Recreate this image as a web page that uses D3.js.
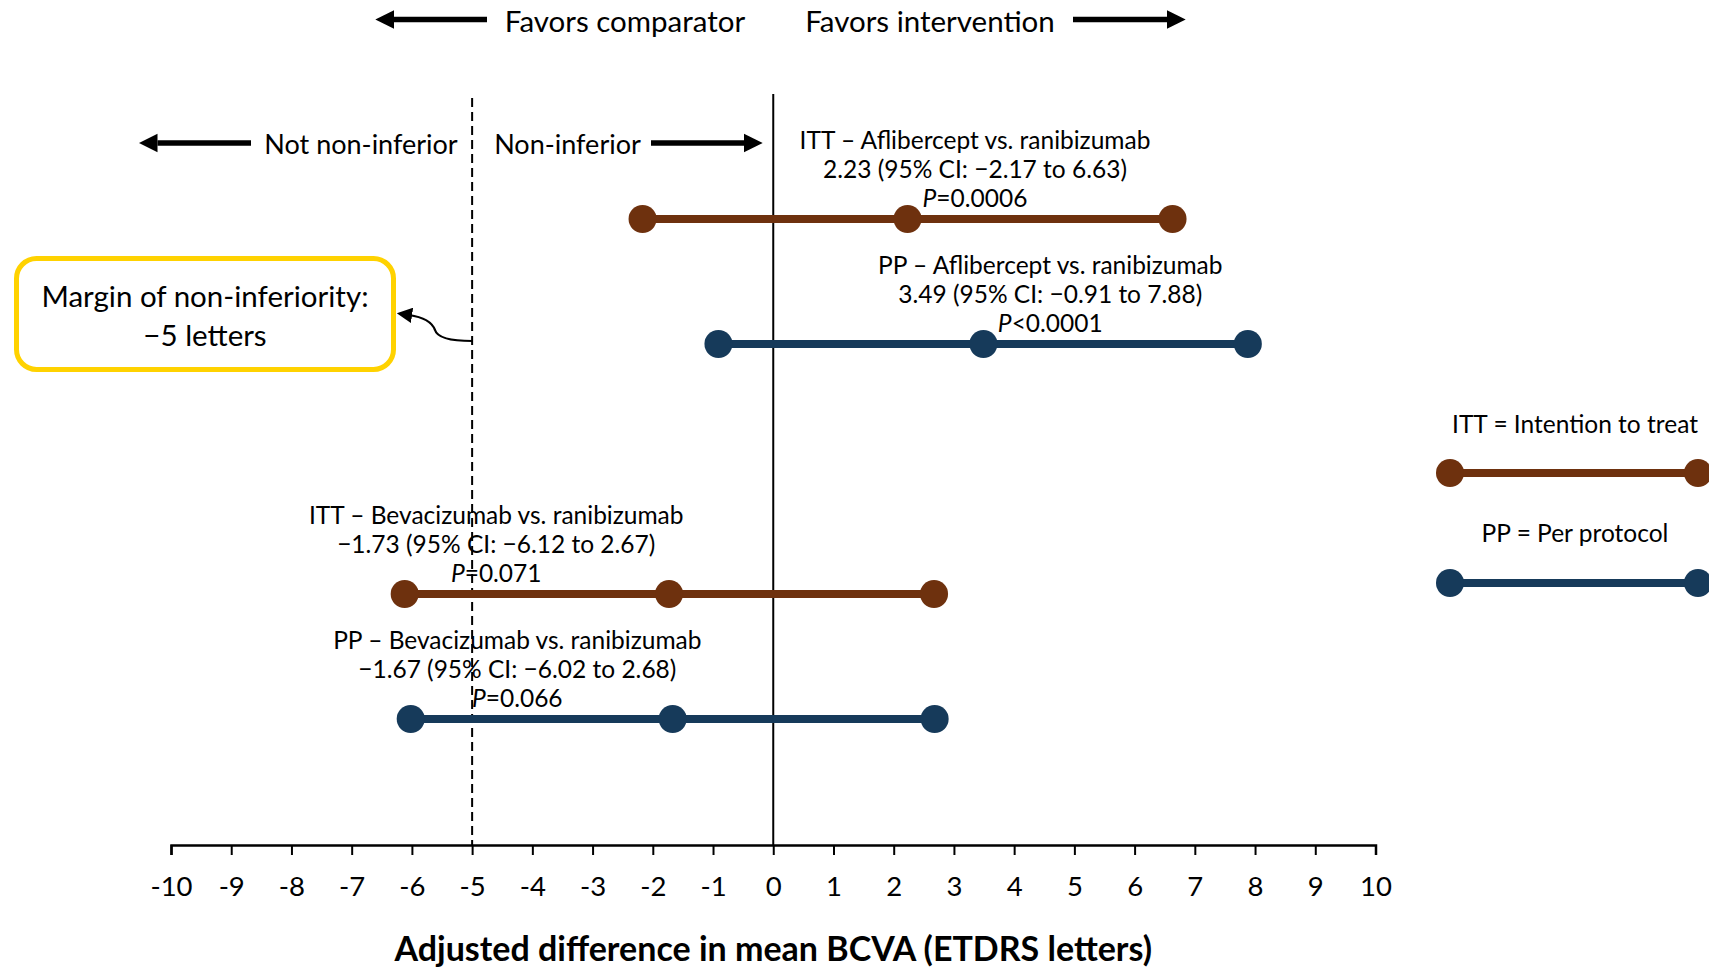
<!DOCTYPE html>
<html>
<head>
<meta charset="utf-8">
<script src="https://cdn.jsdelivr.net/npm/d3@7"></script>
<style>
  html, body { margin: 0; padding: 0; background: #fff; }
  svg { display: block; }
  text { font-family: "Lato", "Noto Sans", sans-serif; fill: #000; }
</style>
</head>
<body>
<svg id="chart" width="1709" height="967"></svg>
<script>
// Adjusted difference in mean BCVA, non-inferiority forest plot
const analyses   = ["ITT", "PP", "ITT", "PP"];
const comparisons = ["Aflibercept vs. ranibizumab", "Aflibercept vs. ranibizumab",
                     "Bevacizumab vs. ranibizumab", "Bevacizumab vs. ranibizumab"];
const estimates  = [2.23, 3.49, -1.73, -1.67];
const ciLower    = [-2.17, -0.91, -6.12, -6.02];
const ciUpper    = [6.63, 7.88, 2.67, 2.68];
const pSign      = ["=", "<", "=", "="];
const pValues    = ["0.0006", "0.0001", "0.071", "0.066"];
const margin     = -5;
const tickValues = [-10, -9, -8, -7, -6, -5, -4, -3, -2, -1, 0, 1, 2, 3, 4, 5, 6, 7, 8, 9, 10];
const legendLabels = ["ITT = Intention to treat", "PP = Per protocol"];

const colors = { ITT: "#6E310E", PP: "#163A5A" };
const fmt = v => (v < 0 ? "\u2212" : "") + Math.abs(v).toFixed(2);

const svg = d3.select("#chart");

const x = d3.scaleLinear().domain([-10, 10]).range([171, 1375.5]);
// rows 0,1 above the gap, rows 3,4 below
const rowSlot = [0, 1, 3, 4];
const y = d3.scalePoint().domain(d3.range(5)).range([219, 719]);

const axisY = 845;

// arrowheads
const defs = svg.append("defs");
defs.append("marker")
  .attr("id", "bigHead").attr("viewBox", "0 0 10 10")
  .attr("refX", 0).attr("refY", 5)
  .attr("markerWidth", 3.4).attr("markerHeight", 4.2)
  .attr("markerUnits", "strokeWidth").attr("orient", "auto")
  .append("path").attr("d", "M0,0 L10,5 L0,10 Z").attr("fill", "#000");
defs.append("marker")
  .attr("id", "smallHead").attr("viewBox", "0 0 10 10")
  .attr("refX", 2).attr("refY", 5)
  .attr("markerWidth", 7).attr("markerHeight", 7)
  .attr("markerUnits", "strokeWidth").attr("orient", "auto")
  .append("path").attr("d", "M0,0 L10,5 L0,10 Z").attr("fill", "#000");

function bigArrow(x1, x2, yy) {
  // shaft from x1 toward x2, head at x2
  const dir = Math.sign(x2 - x1);
  svg.append("line")
    .attr("x1", x1).attr("x2", x2 - dir * 18)
    .attr("y1", yy).attr("y2", yy)
    .attr("stroke", "#000").attr("stroke-width", 5.5)
    .attr("marker-end", "url(#bigHead)");
}

function label(xx, yy, size, str) {
  return svg.append("text").attr("x", xx).attr("y", yy).attr("text-anchor", "middle")
    .attr("dominant-baseline", "central").attr("font-size", size).text(str);
}

// top header
bigArrow(487, 376, 19.5);
bigArrow(1073, 1185, 19.5);
label(625, 20, 29.5, "Favors comparator");
label(930, 20, 29.5, "Favors intervention");

// non-inferiority header
bigArrow(251, 139.5, 143);
bigArrow(651, 762, 143);
label(361, 143, 27, "Not non-inferior");
label(567.5, 143, 27, "Non-inferior");

// reference lines
svg.append("line")
  .attr("x1", x(0)).attr("x2", x(0)).attr("y1", 94).attr("y2", axisY)
  .attr("stroke", "#000").attr("stroke-width", 2);
svg.append("line")
  .attr("x1", x(margin)).attr("x2", x(margin)).attr("y1", 98).attr("y2", axisY)
  .attr("stroke", "#000").attr("stroke-width", 2).attr("stroke-dasharray", "9,5");

// x axis
const axis = d3.axisBottom(x).tickValues(tickValues).tickSize(10).tickPadding(21)
  .tickFormat(d => String(d));
const gAxis = svg.append("g").attr("transform", `translate(0,${axisY})`).call(axis);
gAxis.select(".domain").attr("stroke", "#000").attr("stroke-width", 2.5);
gAxis.selectAll(".tick line").attr("stroke", "#000").attr("stroke-width", 2);
gAxis.selectAll(".tick text")
  .attr("font-family", "Lato, sans-serif").attr("font-size", 27.5).attr("fill", "#000");

svg.append("text").attr("x", x(0)).attr("y", 947).attr("text-anchor", "middle")
  .attr("dominant-baseline", "central").attr("font-size", 34).attr("font-weight", 700)
  .text("Adjusted difference in mean BCVA (ETDRS letters)");

// forest rows
const rows = estimates.map((est, i) => ({
  analysis: analyses[i], comparison: comparisons[i], est,
  lo: ciLower[i], hi: ciUpper[i], sign: pSign[i], p: pValues[i], yy: y(rowSlot[i])
}));

const gRows = svg.selectAll("g.row").data(rows).join("g").attr("class", "row");
gRows.append("line")
  .attr("x1", d => x(d.lo)).attr("x2", d => x(d.hi))
  .attr("y1", d => d.yy).attr("y2", d => d.yy)
  .attr("stroke", d => colors[d.analysis]).attr("stroke-width", 8);
gRows.selectAll("circle").data(d => [d.lo, d.est, d.hi].map(v => ({ v, d })))
  .join("circle")
  .attr("cx", o => x(o.v)).attr("cy", o => o.d.yy).attr("r", 14)
  .attr("fill", o => colors[o.d.analysis]);

// row annotations, centred at a value on the x scale
const labelAt = [3.35, 4.6, -4.6, -4.25];
gRows.each(function (d, i) {
  const g = d3.select(this);
  const cx = x(labelAt[i]);
  g.append("text").attr("x", cx).attr("y", d.yy - 80).attr("text-anchor", "middle")
    .attr("dominant-baseline", "central").attr("font-size", 24.5)
    .text(`${d.analysis} \u2013 ${d.comparison}`);
  g.append("text").attr("x", cx).attr("y", d.yy - 51).attr("text-anchor", "middle")
    .attr("dominant-baseline", "central").attr("font-size", 24.5)
    .text(`${fmt(d.est)} (95% CI: ${fmt(d.lo)} to ${fmt(d.hi)})`);
  const t = g.append("text").attr("x", cx).attr("y", d.yy - 22).attr("text-anchor", "middle")
    .attr("dominant-baseline", "central").attr("font-size", 24.5);
  t.append("tspan").attr("font-style", "italic").text("P");
  t.append("tspan").text(d.sign + d.p);
});

// margin callout
svg.append("rect")
  .attr("x", 16.5).attr("y", 258.5).attr("width", 377).attr("height", 111)
  .attr("rx", 20).attr("fill", "#fff")
  .attr("stroke", "#FFD200").attr("stroke-width", 5);
label(205, 295, 29.5, "Margin of non-inferiority:");
label(205, 334, 29.5, `\u2212${Math.abs(margin)} letters`);
svg.append("path")
  .attr("d", `M${x(margin)},341 C450,341 437,337 435,330 C432,322 423,317 409,315`)
  .attr("fill", "none").attr("stroke", "#000").attr("stroke-width", 2.2)
  .attr("marker-end", "url(#smallHead)");

// legend
const legendRows = [
  { label: legendLabels[0], key: "ITT", ty: 423, ly: 473 },
  { label: legendLabels[1], key: "PP", ty: 532, ly: 583 }
];
const lx1 = 1450, lx2 = 1698;
legendRows.forEach(r => {
  label(1575, r.ty, 24.5, r.label);
  svg.append("line").attr("x1", lx1).attr("x2", lx2).attr("y1", r.ly).attr("y2", r.ly)
    .attr("stroke", colors[r.key]).attr("stroke-width", 8);
  [lx1, lx2].forEach(cx => svg.append("circle").attr("cx", cx).attr("cy", r.ly)
    .attr("r", 14).attr("fill", colors[r.key]));
});
</script>
</body>
</html>
